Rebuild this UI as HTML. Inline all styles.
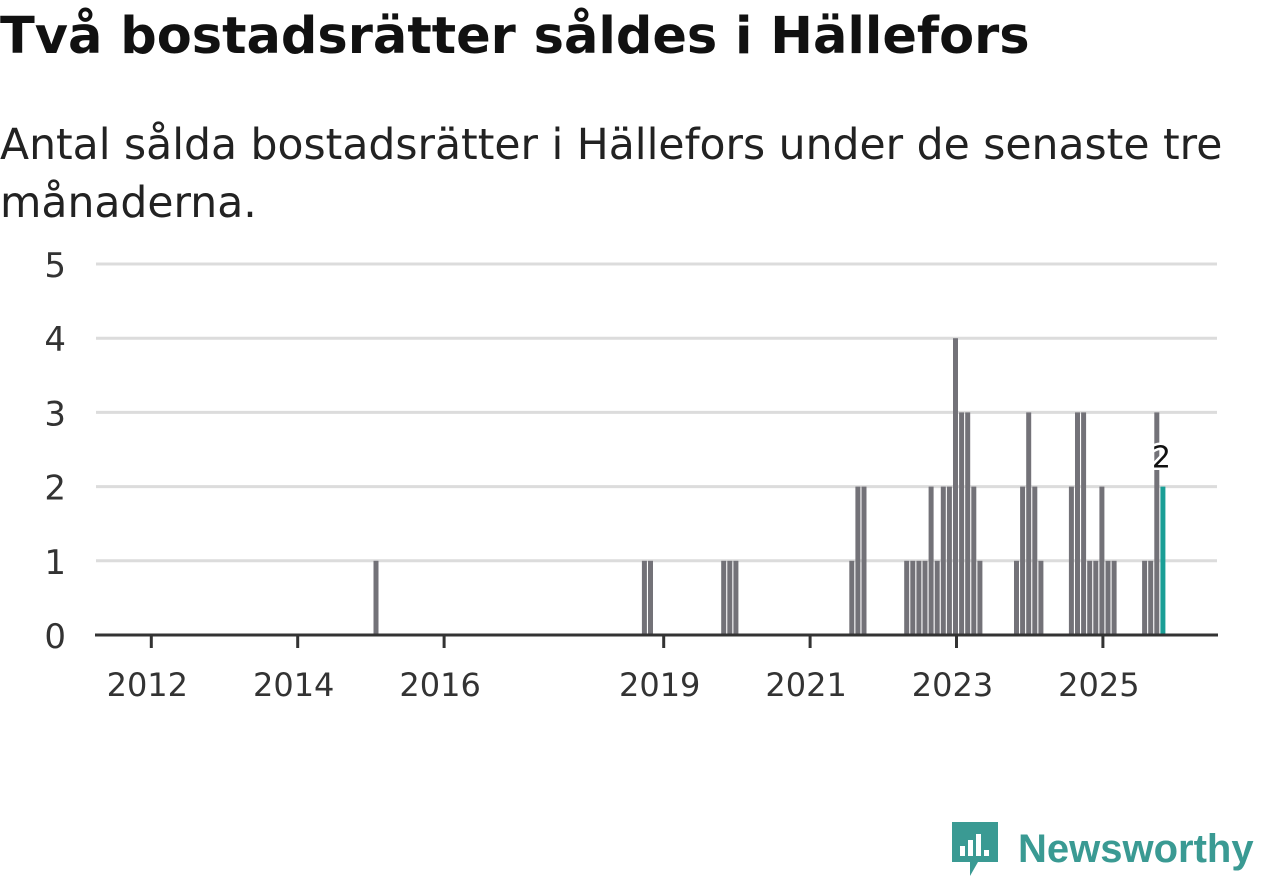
<!DOCTYPE html>
<html><head><meta charset="utf-8">
<style>
body{margin:0;background:#fff;width:1262px;height:879px;overflow:hidden;font-family:"DejaVu Sans","Liberation Sans",sans-serif}
h1{position:absolute;left:0;top:7px;margin:0;font-size:51px;font-weight:bold;color:#111;white-space:nowrap}
p{position:absolute;left:0;top:117px;margin:0;font-size:42.5px;line-height:58px;color:#222;width:1255px}
svg{position:absolute;left:0;top:0}
</style></head><body>
<h1>Två bostadsrätter såldes i Hällefors</h1>
<p>Antal sålda bostadsrätter i Hällefors under de senaste tre månaderna.</p>
<svg id="chart" width="1262" height="879"></svg>
<script>
// month offsets relative to Jan 2023
const months=[-95,-51,-50,-38,-37,-36,-17,-16,-15,-8,-7,-6,-5,-4,-3,-2,-1,0,1,2,3,4,10,11,12,13,14,19,20,21,22,23,24,25,26,31,32,33,34];
const values=[1,1,1,1,1,1,1,2,2,1,1,1,1,2,1,2,2,4,3,3,2,1,1,2,3,2,1,2,3,3,1,1,2,1,1,1,1,3,2];
const yTicks=[0,1,2,3,4,5];
const yearLabels=[2012,2014,2016,2019,2021,2023,2025];
const NS="http://www.w3.org/2000/svg";
const svg=document.getElementById('chart');
function xs(k){return 953+6.1*k;}
function ys(v){return 635-74.2*v;}
function el(t,a){const e=document.createElementNS(NS,t);for(const k in a)e.setAttribute(k,a[k]);svg.appendChild(e);return e;}
yTicks.forEach(v=>{
 if(v>0){const l=el('line',{x1:96,x2:1217,y1:ys(v),y2:ys(v),stroke:'#dcdcdc','stroke-width':3});
 
 }
 const t=el('text',{x:66,y:ys(v)+13,'text-anchor':'end','font-size':34,fill:'#333'});t.textContent=v;
 
 
});
months.forEach((k,i)=>{
 const last=i===months.length-1;
 const r=el('rect',{x:xs(k),y:ys(values[i]),width:5,height:635-ys(values[i]),fill:last?'#1a9e96':'#737278'});
 
 
 if(last){const t=el('text',{x:xs(k)+1,y:ys(values[i])-19,'text-anchor':'middle','font-size':30,fill:'#111',stroke:'#fff','stroke-width':5,'paint-order':'stroke'});t.textContent=values[i];
 
 }
});
const ax=el('line',{x1:95,x2:1218,y1:635,y2:635,stroke:'#333','stroke-width':3});


yearLabels.forEach(y=>{
 const x=xs((y-2023)*12)+3.5;
 const tk=el('line',{x1:x,x2:x,y1:635,y2:648,stroke:'#333','stroke-width':3});
 
 
 const t=el('text',{x:x-4,y:696,'text-anchor':'middle','font-size':32,fill:'#333'});t.textContent=y;
 
 
});
</script>
<div style="position:absolute;left:950px;top:820px;display:flex;align-items:center">
<svg width="50" height="58" style="position:static"><path d="M2 2h46v40H28l-8 14v-14H2z" fill="#3a9a93"/><rect x="10" y="26" width="5" height="10" fill="#fff"/><rect x="18" y="20" width="5" height="16" fill="#fff"/><rect x="26" y="14" width="5" height="22" fill="#fff"/><rect x="34" y="30" width="5" height="6" fill="#fff"/></svg>
<span style="font-family:'Liberation Sans',sans-serif;font-size:40px;font-weight:bold;color:#3a9a93;margin-left:18px">Newsworthy</span></div>
</body></html>
